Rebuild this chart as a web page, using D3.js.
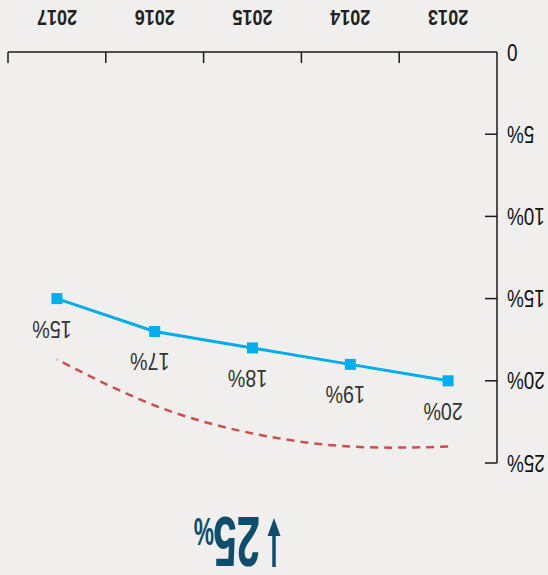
<!DOCTYPE html>
<html>
<head>
<meta charset="utf-8">
<script src="https://cdn.jsdelivr.net/npm/d3@7"></script>
<style>
  html, body { margin: 0; padding: 0; background: #f0efed; }
  svg { display: block; }
</style>
</head>
<body>
<script>
const years = ["2013", "2014", "2015", "2016", "2017"];
const shareValues = [20, 19, 18, 17, 15];
const trendValues = [24.0, 24.0, 23.2, 21.5, 18.7];
const yTicks = [0, 5, 10, 15, 20, 25];
const headline = "25";

const W = 548, H = 575;
const font = "Liberation Sans, Arial, sans-serif";
const squeeze = 0.82;
const svg = d3.select("body").append("svg").attr("width", W).attr("height", H);
svg.append("rect").attr("width", W).attr("height", H).attr("fill", "#f0efed");

// whole chart is shown rotated by 180 degrees
const g = svg.append("g").attr("transform", `rotate(180 ${W / 2} ${H / 2})`);

const x = d3.scaleBand().domain(years).range([51, 540]).padding(0);
const y = d3.scaleLinear().domain([0, 25]).range([523, 112]);

const axisColor = "#1a1a1a";
// x axis
g.append("line").attr("x1", 51).attr("x2", 540).attr("y1", y(0)).attr("y2", y(0))
  .attr("stroke", axisColor).attr("stroke-width", 1.5);
const edges = years.map(d => x(d) + x.bandwidth());
g.selectAll(".xt").data(edges).join("line")
  .attr("x1", d => d).attr("x2", d => d)
  .attr("y1", y(0)).attr("y2", y(0) - 11)
  .attr("stroke", axisColor).attr("stroke-width", 1.5);
g.selectAll(".xl").data(years).join("text")
  .attr("transform", d => `translate(${x(d) + x.bandwidth() / 2},565) scale(${squeeze},1)`)
  .attr("text-anchor", "middle")
  .attr("font-family", font)
  .attr("font-weight", "bold")
  .attr("font-size", 22)
  .attr("fill", "#222")
  .text(d => d);

// y axis
g.append("line").attr("x1", 51).attr("x2", 51).attr("y1", y(0)).attr("y2", y(25))
  .attr("stroke", axisColor).attr("stroke-width", 1.5);
g.selectAll(".yt").data(yTicks.filter(t => t > 0)).join("line")
  .attr("x1", 51).attr("x2", 63)
  .attr("y1", d => y(d)).attr("y2", d => y(d))
  .attr("stroke", axisColor).attr("stroke-width", 1.5);
g.selectAll(".yl").data(yTicks).join("text")
  .attr("transform", d => `translate(41,${y(d) + 8.5}) scale(${squeeze},1)`)
  .attr("text-anchor", "end")
  .attr("font-family", font)
  .attr("font-size", 23)
  .attr("fill", "#111")
  .text(d => d === 0 ? "0" : d + "%");

const cx = d => x(d) + x.bandwidth() / 2;

// dashed trend curve
const trendLine = d3.line()
  .x((d, i) => cx(years[i]))
  .y(d => y(d))
  .curve(d3.curveNatural);
g.append("path").datum(trendValues)
  .attr("d", trendLine)
  .attr("fill", "none")
  .attr("stroke", "#cc4f4f")
  .attr("stroke-width", 2.5)
  .attr("stroke-dasharray", "8,6");

// main line
const mainLine = d3.line().x((d, i) => cx(years[i])).y(d => y(d));
g.append("path").datum(shareValues)
  .attr("d", mainLine)
  .attr("fill", "none")
  .attr("stroke", "#00aeef")
  .attr("stroke-width", 3);
g.selectAll(".pt").data(shareValues).join("rect")
  .attr("x", (d, i) => cx(years[i]) - 5.5)
  .attr("y", d => y(d) - 5.5)
  .attr("width", 11).attr("height", 11)
  .attr("fill", "#00aeef");
g.selectAll(".pl").data(shareValues).join("text")
  .attr("transform", (d, i) => `translate(${cx(years[i]) + 5},${y(d) - 22}) scale(${squeeze},1)`)
  .attr("text-anchor", "middle")
  .attr("font-family", font)
  .attr("font-size", 24)
  .attr("fill", "#333")
  .text(d => d + "%");

// headline: down arrow + 25%
const teal = "#0f4d6c";
g.append("path")
  .attr("d", "M274,8 L274,40")
  .attr("stroke", teal).attr("stroke-width", 3.5);
g.append("path")
  .attr("d", "M267.5,39 L280.5,39 L274,57 Z")
  .attr("fill", teal);
g.append("text")
  .attr("transform", "translate(288,58) scale(0.6,1)")
  .attr("font-family", font)
  .attr("font-weight", "bold")
  .attr("font-size", 70)
  .attr("fill", teal)
  .text(headline);
g.append("text")
  .attr("transform", "translate(334,57) scale(0.6,1)")
  .attr("font-family", font)
  .attr("font-weight", "bold")
  .attr("font-size", 38)
  .attr("fill", teal)
  .text("%");
</script>
</body>
</html>
